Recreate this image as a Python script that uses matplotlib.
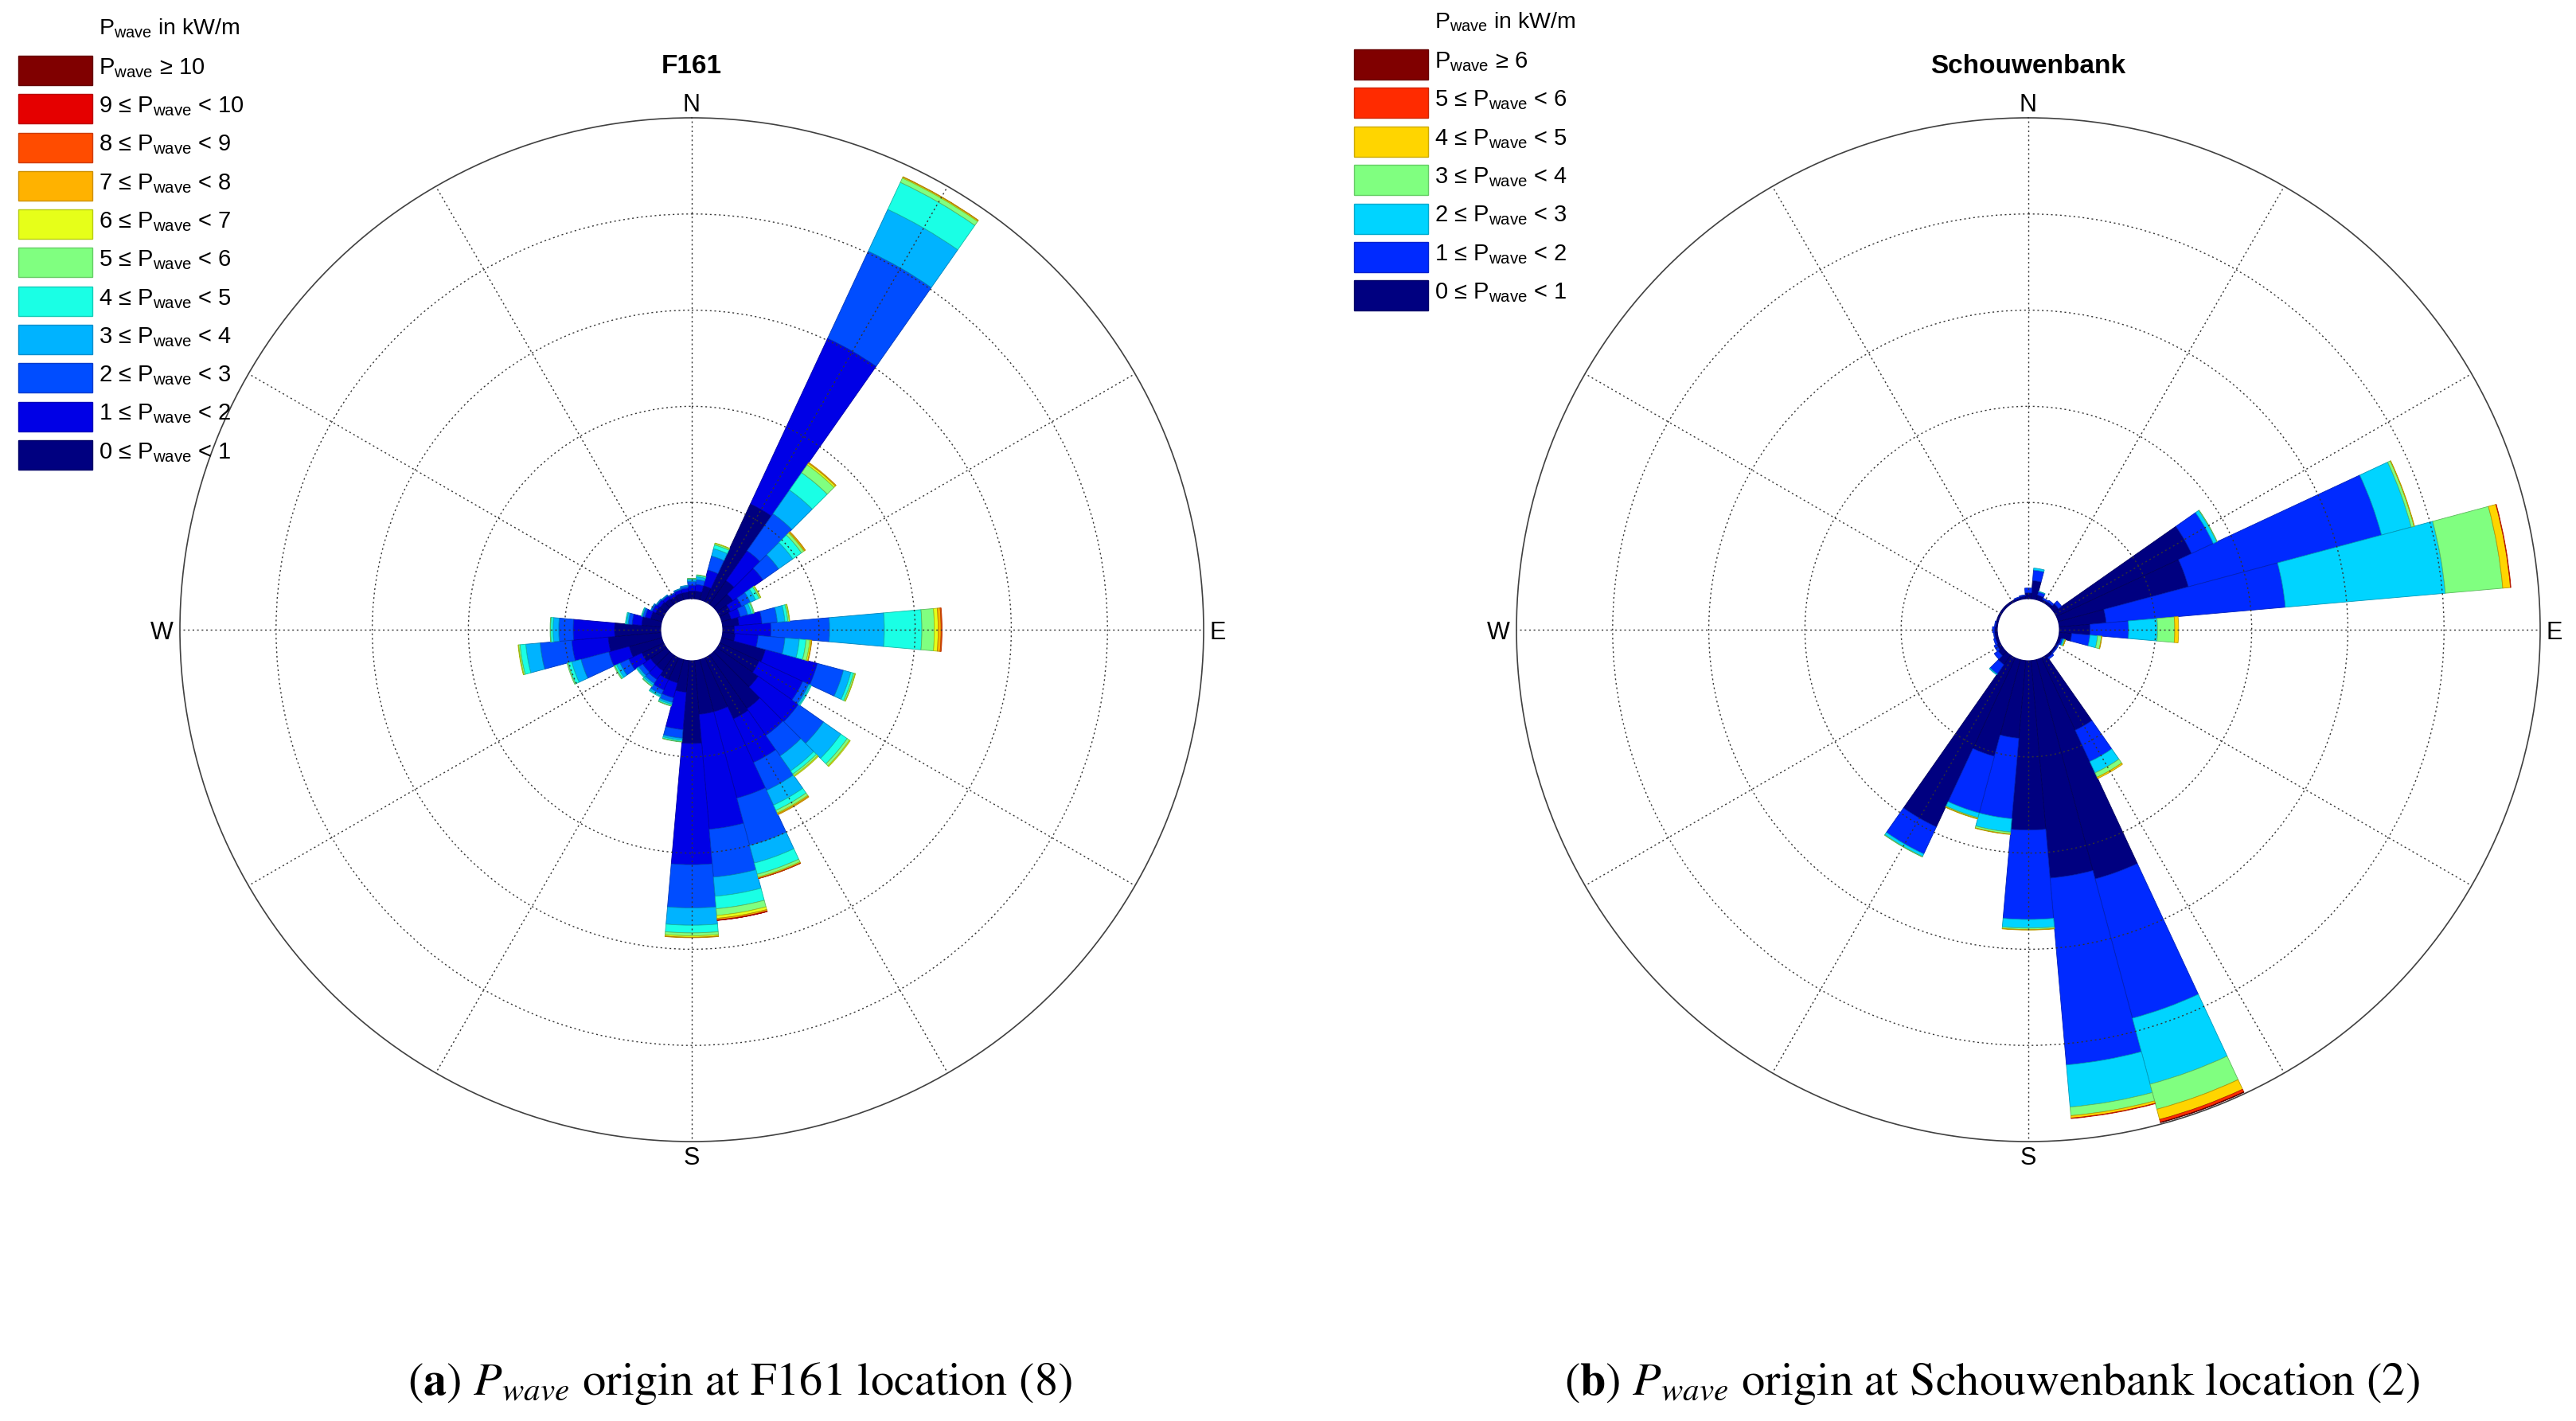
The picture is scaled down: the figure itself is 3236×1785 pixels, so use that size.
import numpy as np
import matplotlib
matplotlib.use('Agg')
import matplotlib.pyplot as plt
from matplotlib.patches import Rectangle

plt.rcParams['font.family'] = ['Liberation Sans', 'DejaVu Sans']
plt.rcParams['mathtext.fontset'] = 'custom'
plt.rcParams['mathtext.rm'] = 'Liberation Sans'
plt.rcParams['mathtext.it'] = 'Liberation Sans:italic'
plt.rcParams['mathtext.bf'] = 'Liberation Sans:bold'

# wave direction bins (deg, clockwise from N)
directions = np.arange(0, 360, 10)

# F161: radial share of each P_wave class per direction (1 unit = 1 ring)
f161_0_1 = [0.08, 0.08, 0.15, 1.12, 0.30, 0.20, 0.12, 0.10, 0.17, 0.12, 0.13, 0.47,
            0.45, 0.52, 0.68, 0.70, 0.56, 0.56, 0.86, 0.33, 0.25, 0.25, 0.20, 0.20,
            0.25, 0.35, 0.55, 0.48, 0.20, 0.12, 0.09, 0.08, 0.07, 0.06, 0.07, 0.07]
f161_1_2 = [0.06, 0.07, 0.17, 1.90, 0.38, 0.38, 0.13, 0.10, 0.24, 0.38, 0.24, 0.56,
            0.50, 0.51, 0.34, 0.50, 0.93, 1.20, 1.26, 0.39, 0.16, 0.12, 0.11, 0.10,
            0.15, 0.22, 0.38, 0.43, 0.10, 0.06, 0.04, 0.035, 0.035, 0.03, 0.035, 0.04]
f161_2_3 = [0.04, 0.05, 0.15, 1.00, 0.47, 0.20, 0.10, 0.08, 0.16, 0.61, 0.28, 0.28,
            0.07, 0.32, 0.26, 0.32, 0.51, 0.50, 0.45, 0.09, 0.05, 0.05, 0.05, 0.05,
            0.10, 0.30, 0.33, 0.15, 0.04, 0.025, 0.015, 0.01, 0.01, 0.01, 0.01, 0.02]
f161_3_4 = [0.02, 0.03, 0.08, 0.48, 0.30, 0.18, 0.06, 0.04, 0.08, 0.57, 0.15, 0.08,
            0.02, 0.22, 0.19, 0.17, 0.19, 0.20, 0.18, 0.02, 0.02, 0.02, 0.02, 0.02,
            0.04, 0.10, 0.15, 0.06, 0.02, 0.01, 0.005, 0.005, 0.005, 0, 0.005, 0.01]
f161_4_5 = [0.008, 0.015, 0.04, 0.31, 0.22, 0.11, 0.04, 0.02, 0.03, 0.39, 0.07, 0.03,
            0.01, 0.08, 0.04, 0.06, 0.12, 0.13, 0.08, 0.015, 0.015, 0.01, 0.015, 0.01,
            0.02, 0.04, 0.06, 0.025, 0.01, 0.005, 0, 0, 0, 0, 0, 0]
f161_5_6 = [0.002, 0.005, 0.015, 0.05, 0.10, 0.03, 0.015, 0.01, 0.015, 0.13, 0.04, 0.015,
            0, 0.03, 0.02, 0.03, 0.03, 0.07, 0.03, 0.005, 0.005, 0, 0.005, 0,
            0.01, 0.01, 0.015, 0.005, 0, 0, 0, 0, 0, 0, 0, 0]
f161_6_7 = [0, 0, 0.005, 0.01, 0.02, 0.01, 0.005, 0, 0.005, 0.04, 0.015, 0.005,
            0, 0.01, 0.01, 0.01, 0.01, 0.03, 0.015, 0, 0, 0, 0, 0,
            0, 0, 0.005, 0, 0, 0, 0, 0, 0, 0, 0, 0]
f161_7_8 = [0, 0, 0, 0.005, 0.01, 0.01, 0, 0, 0, 0.03, 0.005, 0,
            0, 0, 0, 0.01, 0.005, 0.015, 0.005, 0, 0, 0, 0, 0,
            0, 0, 0, 0, 0, 0, 0, 0, 0, 0, 0, 0]
f161_8_9 = [0, 0, 0, 0, 0, 0, 0, 0, 0, 0.01, 0, 0,
            0, 0, 0, 0, 0.002, 0.005, 0, 0, 0, 0, 0, 0,
            0, 0, 0, 0, 0, 0, 0, 0, 0, 0, 0, 0]
f161_9_10 = [0, 0, 0, 0, 0, 0, 0, 0, 0, 0, 0, 0,
             0, 0, 0, 0, 0, 0.002, 0, 0, 0, 0, 0, 0,
             0, 0, 0, 0, 0, 0, 0, 0, 0, 0, 0, 0]
f161_10_up = [0] * 36
f161_edges = [0, 1, 2, 3, 4, 5, 6, 7, 8, 9, 10]

# Schouwenbank
sch_0_1 = [0.06, 0.19, 0.05, 0.025, 0.03, 0.06, 1.55, 1.40, 0.49, 0.32, 0.13, 0.03,
           0.02, 0.02, 0.03, 0.83, 2.36, 2.27, 1.76, 0.81, 1.04, 1.94, 0.12, 0.06,
           0.04, 0.03, 0.03, 0.03, 0.02, 0.02, 0.02, 0.02, 0.02, 0.02, 0.02, 0.03]
sch_1_2 = [0.05, 0.11, 0.035, 0.015, 0.02, 0.04, 0.25, 2.08, 1.87, 0.40, 0.19, 0.02,
           0.01, 0.01, 0.02, 0.36, 1.50, 1.95, 0.93, 0.84, 0.61, 0.31, 0.12, 0.05,
           0.03, 0.02, 0.01, 0.02, 0.01, 0, 0, 0, 0, 0, 0.01, 0.01]
sch_2_3 = [0, 0.02, 0.005, 0, 0, 0, 0.04, 0.32, 1.67, 0.30, 0.08, 0.015,
           0, 0, 0, 0.13, 0.71, 0.44, 0.09, 0.14, 0.05, 0.03, 0.01, 0,
           0, 0, 0, 0, 0, 0, 0, 0, 0, 0, 0, 0]
sch_3_4 = [0, 0, 0, 0, 0, 0, 0.005, 0.03, 0.60, 0.18, 0.04, 0.01,
           0, 0, 0, 0.05, 0.27, 0.09, 0.015, 0.02, 0.01, 0.005, 0, 0,
           0, 0, 0, 0, 0, 0, 0, 0, 0, 0, 0, 0]
sch_4_5 = [0, 0, 0, 0, 0, 0, 0, 0.005, 0.08, 0.04, 0.005, 0.002,
           0, 0, 0, 0.015, 0.11, 0.025, 0.005, 0.005, 0.005, 0, 0, 0,
           0, 0, 0, 0, 0, 0, 0, 0, 0, 0, 0, 0]
sch_5_6 = [0, 0, 0, 0, 0, 0, 0, 0, 0.005, 0, 0, 0,
           0, 0, 0, 0, 0.03, 0.005, 0, 0, 0, 0, 0, 0,
           0, 0, 0, 0, 0, 0, 0, 0, 0, 0, 0, 0]
sch_6_up = [0, 0, 0, 0, 0, 0, 0, 0, 0, 0, 0, 0,
            0, 0, 0, 0, 0.005, 0, 0, 0, 0, 0, 0, 0,
            0, 0, 0, 0, 0, 0, 0, 0, 0, 0, 0, 0]
sch_edges = [0, 1, 2, 3, 4, 5, 6]

f161_classes = [f161_0_1, f161_1_2, f161_2_3, f161_3_4, f161_4_5, f161_5_6,
                f161_6_7, f161_7_8, f161_8_9, f161_9_10, f161_10_up]
sch_classes = [sch_0_1, sch_1_2, sch_2_3, sch_3_4, sch_4_5, sch_5_6, sch_6_up]

W, H = 3237, 1785
R = 643          # outer circle radius in px
CY = 791
HOLE = 0.0607    # hole radius / outer radius
RMAX = 5


def jet(n):
    # matlab jet, n colours
    t = np.linspace(0, 1, n)
    r = np.interp(t, [0, 3/8, 5/8, 7/8, 1], [0, 0, 1, 1, 0.5])
    g = np.interp(t, [0, 1/8, 3/8, 5/8, 7/8, 1], [0, 0, 1, 1, 0, 0])
    b = np.interp(t, [0, 1/8, 3/8, 5/8, 1], [0.5, 1, 1, 0, 0])
    return np.column_stack([r, g, b])


def fig_box(x0, y0, w, h):
    return [x0 / W, 1 - (y0 + h) / H, w / W, h / H]


def class_labels(edges):
    pw = r'$\mathrm{P_{wave}}$'
    labs = ['%d ≤ %s < %d' % (a, pw, b) for a, b in zip(edges[:-1], edges[1:])]
    labs.append('%s ≥ %d' % (pw, edges[-1]))
    return labs


def draw_rose(fig, cx, title, classes, edges, leg_x, leg_top, leg_step, box_h):
    ax = fig.add_axes(fig_box(cx - R, CY - R, 2 * R, 2 * R), projection='polar')
    ax.set_theta_zero_location('N')
    ax.set_theta_direction(-1)
    colors = jet(len(classes))
    theta = np.deg2rad(directions)
    bottom = np.zeros(len(directions))
    for vals, col in zip(classes, colors):
        vals = np.asarray(vals, dtype=float)
        keep = vals > 0
        if keep.any():
            ax.bar(theta[keep], vals[keep], width=np.deg2rad(10), bottom=bottom[keep],
                   color=col, edgecolor=col * 0.72, linewidth=0.6, zorder=1)
        bottom += vals
    ax.set_rorigin(-HOLE * RMAX / (1 - HOLE))
    ax.set_ylim(0, RMAX)
    ax.set_xticks(np.deg2rad(np.arange(0, 360, 30)))
    ax.set_xticklabels([])
    ax.set_yticks([1, 2, 3, 4])
    ax.set_yticklabels([])
    ax.tick_params(length=0)
    ax.set_axisbelow(False)
    ax.grid(True, color='#333333', linestyle=(0, (1.5, 2.6)), linewidth=1.0)
    ax.spines['polar'].set_color('#404040')
    ax.spines['polar'].set_linewidth(1.2)
    if 'inner' in ax.spines:
        ax.spines['inner'].set_color('#000070')
        ax.spines['inner'].set_linewidth(0.8)

    gap = 8 / (2 * R)
    ax.text(0.5, 1 + gap, 'N', transform=ax.transAxes, ha='center', va='baseline', fontsize=22)
    ax.text(1 + gap, 0.5, 'E', transform=ax.transAxes, ha='left', va='center_baseline', fontsize=22)
    ax.text(0.5, -0.75 * gap, 'S', transform=ax.transAxes, ha='center', va='top', fontsize=22)
    ax.text(-gap, 0.5, 'W', transform=ax.transAxes, ha='right', va='center_baseline', fontsize=22)

    fig.text(cx / W, 1 - 92 / H, title, ha='center', va='baseline',
             fontsize=24, fontweight='bold')

    # legend, highest class on top
    fig.text((leg_x + 101) / W, 1 - (leg_top - 27) / H, r'$\mathrm{P_{wave}}$ in kW/m',
             fontsize=20.5, va='baseline')
    labs = class_labels(edges)
    for k, (lab, col) in enumerate(zip(labs[::-1], colors[::-1])):
        top = leg_top + k * leg_step
        fig.add_artist(Rectangle((leg_x / W, 1 - (top + box_h) / H), 93 / W, box_h / H,
                                 transform=fig.transFigure, facecolor=col,
                                 edgecolor=col * 0.8, linewidth=1.0))
        fig.text((leg_x + 101) / W, 1 - (top + 23) / H, lab, fontsize=21, va='baseline')
    return ax


fig = plt.figure(figsize=(W / 100, H / 100), dpi=100)

draw_rose(fig, 869, 'F161', f161_classes, f161_edges, 23, 70, 48.3, 37)
draw_rose(fig, 2548, 'Schouwenbank', sch_classes, sch_edges, 1701, 62, 48.4, 38)

fig.text(512 / W, 1 - 1752 / H, r'($\mathbf{a}$) $P_{wave}$ origin at F161 location (8)',
         family='STIXGeneral', math_fontfamily='stix', fontsize=42, va='baseline')
fig.text(2502 / W, 1 - 1752 / H, r'($\mathbf{b}$) $P_{wave}$ origin at Schouwenbank location (2)',
         family='STIXGeneral', math_fontfamily='stix', fontsize=42, va='baseline', ha='center')

fig.savefig('out.png', dpi=100)
